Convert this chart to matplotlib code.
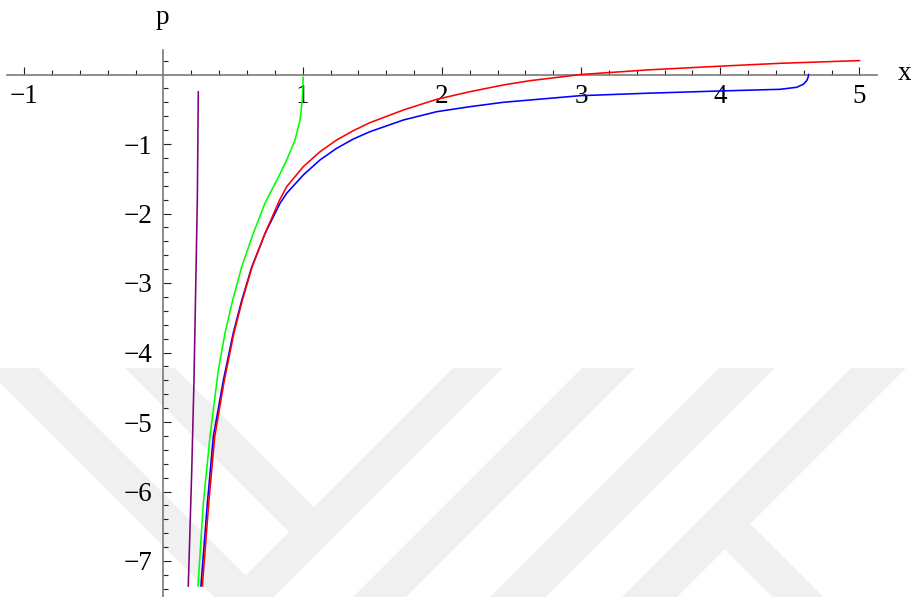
import numpy as np
import matplotlib
matplotlib.use("Agg")
import matplotlib.pyplot as plt
from matplotlib.patches import Polygon

# ---- data ----
red_x = [0.279, 0.325, 0.368, 0.437, 0.506, 0.566, 0.636, 0.729, 0.833, 0.885, 1.004, 1.124, 1.244, 1.364,
         1.483, 1.723, 1.963, 2.202, 2.441, 2.633, 3.000, 3.470, 4.000, 4.430, 5.000]
red_y = [-7.36, -6.17, -5.21, -4.40, -3.72, -3.25, -2.77, -2.29, -1.81, -1.614, -1.327, -1.111, -0.942, -0.808,
         -0.693, -0.511, -0.357, -0.247, -0.151, -0.089, 0.000, 0.065, 0.120, 0.161, 0.200]

blue_x = [0.269, 0.315, 0.358, 0.430, 0.501, 0.562, 0.634, 0.729, 0.837, 0.885, 1.004, 1.124, 1.244, 1.364,
          1.483, 1.723, 1.963, 2.202, 2.441, 2.633, 2.992, 3.470, 3.998, 4.429, 4.549, 4.596, 4.621, 4.632, 4.634]
blue_y = [-7.36, -6.17, -5.21, -4.40, -3.72, -3.25, -2.77, -2.29, -1.853, -1.709, -1.446, -1.230, -1.062, -0.928,
          -0.823, -0.655, -0.535, -0.463, -0.400, -0.367, -0.305, -0.270, -0.237, -0.213, -0.184, -0.141, -0.089, -0.032, 0.000]

green_x = [0.248, 0.286, 0.334, 0.394, 0.442, 0.497, 0.562, 0.645, 0.729, 0.765, 0.820, 0.885, 0.945, 0.981, 0.997, 1.004]
green_y = [-7.36, -6.17, -5.21, -4.25, -3.72, -3.245, -2.766, -2.285, -1.853, -1.709, -1.50, -1.230, -0.942, -0.655, -0.367, -0.04]

purple_x = [0.178, 0.203, 0.219, 0.243, 0.250]
purple_y = [-7.36, -5.69, -4.40, -1.81, -0.25]

x_major = [-1, 1, 2, 3, 4, 5]
y_major = [-7, -6, -5, -4, -3, -2, -1]

# ---- figure ----
W, H = 912, 597
fig = plt.figure(figsize=(W / 100, H / 100), dpi=100)
fig.patch.set_facecolor("white")

# faint background watermark (decoration of the source page), in pixel coords
def px_poly(pts):
    return [(x / W, 1 - y / H) for x, y in pts]

wm = "#f0f0f0"
top = 368.0
bot = 660.0
def fwd_stripe(x0, x1, y_end):           # "/" direction
    t = y_end - top
    return [(x0, top), (x1, top), (x1 - t, y_end), (x0 - t, y_end)]

t_b = bot - top
shapes = [
    [(-15, top), (38, top), (38 + t_b, bot), (-15 + t_b, bot)],
    [(125, top), (175, top), (314, 507), (289, 532)],
    fwd_stripe(453, 503, bot),
    fwd_stripe(582, 635, bot),
    fwd_stripe(719, 775, bot),
    fwd_stripe(851, 906, bot),
    [(750, 523.6), (750 + (bot - 523.6), bot), (724.6 + (bot - 549), bot), (724.6, 549)],
]
for s in shapes:
    fig.patches.append(Polygon(px_poly(s), closed=True, facecolor=wm, edgecolor="none",
                               transform=fig.transFigure, figure=fig, zorder=0))

ax = fig.add_axes([0, 0, 1, 1])
ax.set_zorder(1)
ax.patch.set_visible(False)

x0p, xs = 163.5, 139.2
y0p, ys = 74.5, 69.5
ax.set_xlim(-x0p / xs, (W - x0p) / xs)
ax.set_ylim((y0p - H) / ys, y0p / ys)

lw = 1.15
ax.plot(purple_x, purple_y, color="#800080", lw=lw, zorder=3)
ax.plot(green_x, green_y, color="#00ff00", lw=lw, zorder=3)
ax.plot(blue_x, blue_y, color="#0000ff", lw=lw, zorder=3)
ax.plot(red_x, red_y, color="#ff0000", lw=lw, zorder=3)

# axes through origin
for s in ["top", "right"]:
    ax.spines[s].set_visible(False)
ax.spines["left"].set_position(("data", 0))
ax.spines["bottom"].set_position(("data", 0))
ax.spines["bottom"].set_bounds((7 - x0p) / xs, (877 - x0p) / xs)
ax.spines["left"].set_bounds((y0p - H) / ys, (y0p - 50) / ys)
for s in ["left", "bottom"]:
    ax.spines[s].set_color("#7a7a7a")
    ax.spines[s].set_linewidth(1.2)
    ax.spines[s].set_zorder(2)

ax.set_xticks(x_major)
ax.set_xticks([v for v in np.round(np.arange(-1.0, 5.01, 0.2), 1) if abs(v - round(v)) > 1e-6], minor=True)
ax.set_yticks(y_major)
ax.set_yticks([v for v in np.round(np.arange(-7.4, 0.21, 0.2), 1) if abs(v - round(v)) > 1e-6], minor=True)
ax.set_xticklabels([str(v).replace("-", "\u2212") for v in x_major])
ax.set_yticklabels([str(v).replace("-", "\u2212") for v in y_major])

font = "Liberation Serif"
ax.tick_params(axis="both", which="major", direction="in", length=6, width=0.8, color="#222222",
               labelsize=19.5)
ax.tick_params(axis="both", which="minor", direction="in", length=3.5, width=0.8, color="#222222")
ax.tick_params(axis="x", which="major", pad=7)
ax.tick_params(axis="y", which="major", pad=8)
for lab in ax.get_xticklabels() + ax.get_yticklabels():
    lab.set_fontfamily(font)

ax.text((162 - x0p) / xs, (y0p - 17) / ys, "p", fontsize=19.5, family=font, ha="center", va="center")
ax.text((905 - x0p) / xs, (y0p - 73) / ys, "x", fontsize=19.5, family=font, ha="center", va="center")

fig.savefig("out.png", dpi=100)
